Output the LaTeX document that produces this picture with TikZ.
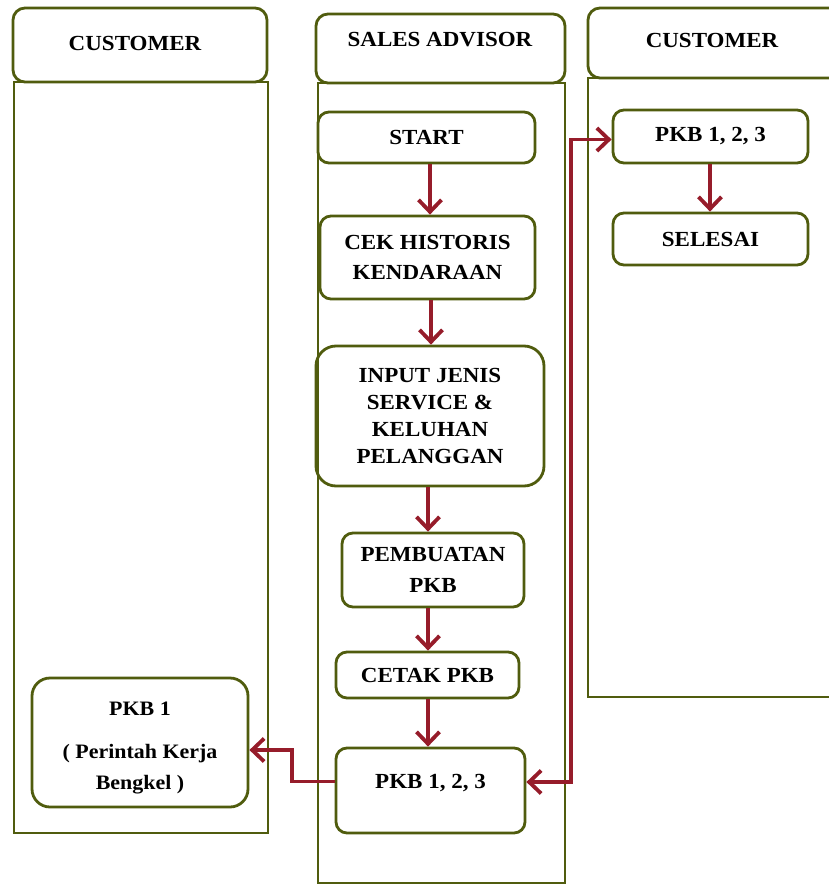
\documentclass[tikz,border=0pt]{standalone}
\usepackage{fontspec}
\setmainfont{Liberation Serif}[FakeStretch=1.07]
\usetikzlibrary{arrows.meta,calc}
\definecolor{lanegreen}{RGB}{80,92,14}
\definecolor{flowred}{RGB}{150,28,42}
\begin{document}
\begin{tikzpicture}[x=1pt,y=-1pt,
  lanestroke/.style={draw=lanegreen,line width=2.8pt},
  stepbox/.style={draw=lanegreen,line width=2.8pt,rounded corners=11pt,align=center,
    inner sep=0pt,font=\fontsize{21.5}{30}\selectfont\bfseries},
  headtext/.style={font=\fontsize{21.5}{26}\selectfont\bfseries,inner sep=0pt},
  barb/.tip={Straight Barb[length=12pt,width=23pt]},
  flow/.style={draw=flowred,line width=3.8pt,-barb},
  flowboth/.style={draw=flowred,line width=3.8pt,barb-barb}]
\useasboundingbox (0,0) rectangle (829,886);
\clip (0,0) rectangle (829,886);
\fill[white] (0,0) rectangle (829,886);
% lanes
\draw[lanestroke] (14,82) rectangle (268,833);
\draw[lanestroke,fill=white,rounded corners=12pt] (13,8) rectangle (267,82);
\draw[lanestroke] (318,83) rectangle (565,883);
\draw[lanestroke,fill=white,rounded corners=12pt] (316,14) rectangle (565,83);
\draw[lanestroke] (588,78) rectangle (850,697);
\draw[lanestroke,fill=white,rounded corners=12pt] (588,8) rectangle (850,78);
% headers
\node[headtext] (h1) at (135,43) {CUSTOMER};
\node[headtext] (h2) at (440,40) {SALES ADVISOR};
\node[headtext] (h3) at (712,40) {CUSTOMER};
% middle boxes
\node[stepbox,minimum width=217pt,minimum height=51pt] (start) at (426.5,137.5) {START};
\node[stepbox,minimum width=215pt,minimum height=83pt] (cek) at (427.5,257.5) {CEK HISTORIS\\KENDARAAN};
\node[stepbox,rounded corners=20pt,minimum width=228pt,minimum height=140pt,
  font=\fontsize{21.5}{27}\selectfont\bfseries] (input) at (430,416) {INPUT JENIS\\SERVICE \&\\KELUHAN\\PELANGGAN};
\node[stepbox,minimum width=182pt,minimum height=74pt,font=\fontsize{21.5}{31}\selectfont\bfseries] (pemb) at (433,570) {PEMBUATAN\\PKB};
\node[stepbox,minimum width=183pt,minimum height=46pt] (cetak) at (427.5,675) {CETAK PKB};
\node[stepbox,minimum width=189pt,minimum height=85pt] (pkbm) at (430.5,790.5) {};
\node[headtext] (pkbmt) at (430.5,783) {PKB 1, 2, 3};
% right boxes
\node[stepbox,minimum width=195pt,minimum height=53pt] (rpkb) at (710.5,136.5) {PKB 1, 2, 3};
\node[stepbox,minimum width=195pt,minimum height=52pt] (selesai) at (710.5,239) {SELESAI};
% left box
\node[stepbox,minimum width=216pt,minimum height=129pt,rounded corners=18pt] (pkb1) at (140,742.5) {};
\node[align=center,inner sep=0pt,font=\fontsize{20.5}{31}\selectfont\bfseries] (pkb1t) at (140,748)
  {PKB 1\\[12pt]( Perintah Kerja\\Bengkel )};
% axes
\coordinate (ax) at (430,0);
\coordinate (axr) at (710,0);
\coordinate (jr) at (571,0);
\coordinate (jl) at (292,0);
% connectors
\draw[flow] (start.south -| ax) -- (cek.north -| ax);
\draw[flow] ([xshift=1pt]cek.south -| ax) -- ([xshift=1pt]input.north -| ax);
\draw[flow] ([xshift=-2pt]input.south -| ax) -- ([xshift=-2pt]pemb.north -| ax);
\draw[flow] ([xshift=-2pt]pemb.south -| ax) -- ([xshift=-2pt]cetak.north -| ax);
\draw[flow] ([xshift=-2pt]cetak.south -| ax) -- ([xshift=-2pt]pkbm.north -| ax);
\draw[flow] (rpkb.south -| axr) -- (selesai.north -| axr);
\draw[flowboth] ([yshift=8.5pt]pkbm.east) -- ([yshift=8.5pt]pkbm.east -| jr) |- ([yshift=-3pt]rpkb.west);
\draw[flow] ([yshift=9pt]pkbm.west) -- ([yshift=9pt]pkbm.west -| jl) |- ([yshift=-7.5pt]pkb1.east);
\end{tikzpicture}
\end{document}
